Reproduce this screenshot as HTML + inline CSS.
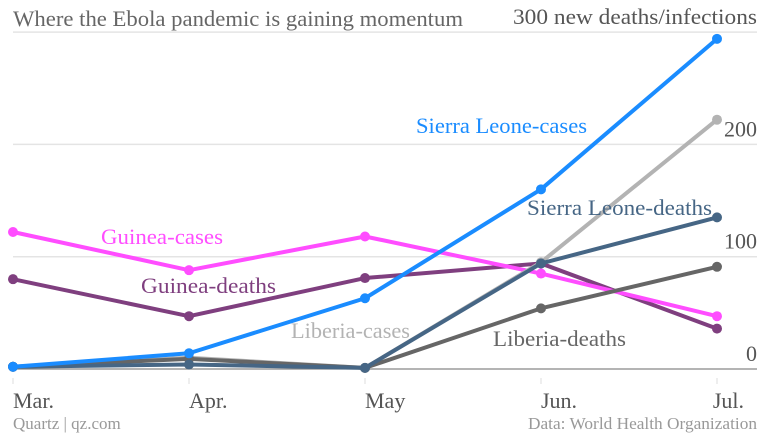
<!DOCTYPE html>
<html><head><meta charset="utf-8"><style>
html,body{margin:0;padding:0;background:#fff;}
svg{display:block;font-family:"Liberation Serif",serif;}
</style></head><body>
<svg id="chart" width="770" height="434" viewBox="0 0 770 434" xmlns="http://www.w3.org/2000/svg">
<g id="grid"></g><g id="lines"></g><g id="labels"></g>
</svg>
<script>
const months = ["Mar.","Apr.","May","Jun.","Jul."];
const yTicks = [0,100,200,300];
const sierraCases = [2,14,63,160,294];
const sierraDeaths = [2,4,1,94,135];
const guineaCases = [122,88,118,85,47];
const guineaDeaths = [80,47,81,94,36];
const liberiaCases = [2,10,1,95,222];
const liberiaDeaths = [2,9,1,54,91];

const NS="http://www.w3.org/2000/svg";
function x(i){return 13+(717-13)*i/(months.length-1);}
function y(v){return 369-v*1.123;}
function el(tag,attrs,parent,text){const e=document.createElementNS(NS,tag);for(const k in attrs)e.setAttribute(k,attrs[k]);if(text!==undefined)e.textContent=text;parent.appendChild(e);return e;}
const grid=document.getElementById('grid'),lines=document.getElementById('lines'),labels=document.getElementById('labels');

const title=el('text',{x:13,y:26,'font-size':22,fill:'#666',textLength:450,lengthAdjust:'spacingAndGlyphs'},labels,'Where the Ebola pandemic is gaining momentum');



yTicks.forEach(t=>{
  const g=el('line',{x1:13,x2:757,y1:y(t),y2:y(t),stroke:t===0?'#888':'#e4e4e4','stroke-width':t===0?1.2:1.5},grid);
  
  
  const lbl=t===300?'300 new deaths/infections':String(t);
  const attrs={x:757,y:y(t)-8,'text-anchor':'end','font-size':22,fill:'#555'};
  if(t===300){attrs.textLength=244;attrs.lengthAdjust='spacingAndGlyphs';}
  const tx=el('text',attrs,labels,lbl);
  
  
});
months.forEach((m,i)=>{
  const tk=el('line',{x1:x(i),x2:x(i),y1:378,y2:384,stroke:'#ddd','stroke-width':1},grid);
  
  
  const anchor=i===months.length-1?'end':'start';
  const tx=el('text',{x:i===months.length-1?x(i)+27:x(i),y:408,'text-anchor':anchor,'font-size':22,fill:'#555'},labels,m);
  
  
});

const series=[
 {name:'guinea-deaths',data:guineaDeaths,color:'#7f3f7f',label:'Guinea-deaths',lx:141,ly:293,w:135},
 {name:'guinea-cases',data:guineaCases,color:'#ff4dff',label:'Guinea-cases',lx:101,ly:244,w:122},
 {name:'liberia-cases',data:liberiaCases,color:'#b3b3b3',label:'Liberia-cases',lx:291,ly:338,w:119},
 {name:'liberia-deaths',data:liberiaDeaths,color:'#666666',label:'Liberia-deaths',lx:493,ly:346,w:133},
 {name:'sierra-leone-deaths',data:sierraDeaths,color:'#466685',label:'Sierra Leone-deaths',lx:527,ly:215,w:185},
 {name:'sierra-leone-cases',data:sierraCases,color:'#1a8cff',label:'Sierra Leone-cases',lx:416,ly:133,w:171}
];
series.forEach(s=>{
  const pts=s.data.map((v,i)=>x(i)+','+y(v)).join(' ');
  const pl=el('polyline',{points:pts,fill:'none',stroke:s.color,'stroke-width':4,'stroke-linejoin':'round','stroke-linecap':'round'},lines);
  
  
  s.data.forEach((v,i)=>{
    const c=el('circle',{cx:x(i),cy:y(v),r:5,fill:s.color},lines);
    
    
  });
  const t=el('text',{x:s.lx,y:s.ly,'font-size':22,fill:s.color,textLength:s.w,lengthAdjust:'spacingAndGlyphs'},labels,s.label);
  
  
});

const src1=el('text',{x:13,y:429,'font-size':17,fill:'#999'},labels,'Quartz | qz.com');


const src2=el('text',{x:757,y:429,'text-anchor':'end','font-size':17,fill:'#999',textLength:229,lengthAdjust:'spacingAndGlyphs'},labels,'Data: World Health Organization');


</script>
</body></html>
